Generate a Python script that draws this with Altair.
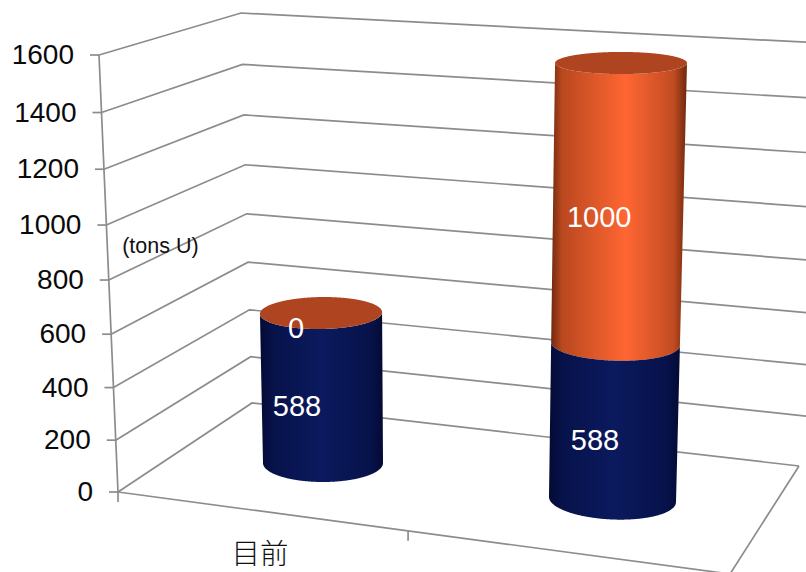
import altair as alt
import numpy as np
import pandas as pd

# Chart values
CATEGORIES = ["目前"]
LOWER_SERIES = [588, 588]
UPPER_SERIES = [0, 1000]
VALUE_TICKS = [0, 200, 400, 600, 800, 1000, 1200, 1400, 1600]
UNIT_LABEL = "(tons U)"

# Scene description: corners of the box in screen space, at value 0 and at the axis maximum
W, H = 806, 572
V_MAX = 1600
FRONT_LEFT = ((118, 492), (99, 55))
BACK_LEFT = ((252, 403), (241, 13))
BACK_RIGHT = ((799, 466), (860, 45))
FRONT_RIGHT = (730, 574)
CATEGORY_TICK_FRACTIONS = [0.0, 0.474]
FORESHORTEN = 0.942

# Cylinder footprints: base centre, lean at full height, radii and rim tilt
CYLINDERS = [
    dict(cx=323, cy=463, rise=424.0, lean=-5.6, rx=(60, 63), ry=(19, 10.5), tilt=(0.0, -0.04), label_dx=-25),
    dict(cx=612.5, cy=499.5, rise=440.0, lean=8.6, rx=(63.5, 66), ry=(20, 11), tilt=(0.04, 0.0), label_dx=-19),
]

NAVY = alt.Gradient(
    gradient="linear", x1=0, x2=1, y1=0, y2=0,
    stops=[
        alt.GradientStop(offset=0.0, color="#030a33"),
        alt.GradientStop(offset=0.1, color="#07124a"),
        alt.GradientStop(offset=0.5, color="#0b1a5e"),
        alt.GradientStop(offset=0.9, color="#07124a"),
        alt.GradientStop(offset=1.0, color="#030a33"),
    ],
)
ORANGE = alt.Gradient(
    gradient="linear", x1=0, x2=1, y1=0, y2=0,
    stops=[
        alt.GradientStop(offset=0.0, color="#70290f"),
        alt.GradientStop(offset=0.08, color="#b9481f"),
        alt.GradientStop(offset=0.55, color="#ff6633"),
        alt.GradientStop(offset=0.9, color="#c24c22"),
        alt.GradientStop(offset=1.0, color="#6e280e"),
    ],
)
CAP_COLOR = "#ae4420"
GRID_COLOR = "#8c8c8c"
FONT = "Liberation Sans"


def depth_fraction(value):
    """Share of the projected height reached by a value, with perspective foreshortening."""
    t = value / V_MAX
    return FORESHORTEN * t / (1 + (FORESHORTEN - 1) * t)


def edge_point(edge, value):
    s = depth_fraction(value)
    (x0, y0), (x1, y1) = edge
    return x0 + (x1 - x0) * s, y0 + (y1 - y0) * s


def lerp(pair, s):
    return pair[0] + (pair[1] - pair[0]) * s


def ring(cyl, value, start=0.0, stop=2 * np.pi, n=120):
    """Outline of the cylinder's rim at a given value."""
    s = depth_fraction(value)
    cx = cyl["cx"] + cyl["lean"] * s
    cy = cyl["cy"] - cyl["rise"] * s
    rx, ry, tilt = lerp(cyl["rx"], s), lerp(cyl["ry"], s), lerp(cyl["tilt"], s)
    theta = np.linspace(start, stop, n)
    return np.column_stack([
        cx + rx * np.cos(theta),
        cy + tilt * rx * np.cos(theta) + ry * np.sin(theta),
    ])


def slices(polygon):
    """Turn a closed outline into x / y / y2 rows for an area mark."""
    pts = np.vstack([polygon, polygon[0]])
    xs = np.unique(np.concatenate([pts[:, 0], np.linspace(pts[:, 0].min(), pts[:, 0].max(), 200)]))
    rows = []
    for x in xs:
        hits = []
        for (xa, ya), (xb, yb) in zip(pts[:-1], pts[1:]):
            if min(xa, xb) <= x <= max(xa, xb):
                if xa == xb:
                    hits += [ya, yb]
                else:
                    hits.append(ya + (yb - ya) * (x - xa) / (xb - xa))
        if hits:
            rows.append(dict(x=float(x), y=min(hits), y2=max(hits)))
    return pd.DataFrame(rows)


X = alt.X("x:Q", scale=alt.Scale(domain=[0, W], nice=False, zero=False), axis=None)
Y = alt.Y("y:Q", scale=alt.Scale(domain=[H, 0], nice=False, zero=False), axis=None)


def band(value_low, value_high, cyl, fill):
    lower = ring(cyl, value_low, 0, np.pi)
    upper = ring(cyl, value_high, np.pi, 0)
    frame = slices(np.vstack([lower, upper]))
    return alt.Chart(frame).mark_area(color=fill, clip=True).encode(x=X, y=Y, y2="y2:Q")


def cap(value, cyl):
    frame = slices(ring(cyl, value)[:-1])
    return alt.Chart(frame).mark_area(color=CAP_COLOR, clip=True).encode(x=X, y=Y, y2="y2:Q")


# Wall gridlines, axis edge, floor outline and tick marks
segments = []


def add_path(points):
    group = len({row["group"] for row in segments})
    for i, (x, y) in enumerate(points):
        segments.append(dict(group=group, i=i, x=x, y=y))


for tick in VALUE_TICKS:
    front = edge_point(FRONT_LEFT, tick)
    add_path([front, edge_point(BACK_LEFT, tick), edge_point(BACK_RIGHT, tick)])
    add_path([(front[0] - 9, front[1]), front])
add_path([edge_point(FRONT_LEFT, 0), edge_point(FRONT_LEFT, V_MAX)])
add_path([edge_point(FRONT_LEFT, 0), FRONT_RIGHT, edge_point(BACK_RIGHT, 0)])
for frac in CATEGORY_TICK_FRACTIONS:
    x0, y0 = edge_point(FRONT_LEFT, 0)
    px, py = x0 + (FRONT_RIGHT[0] - x0) * frac, y0 + (FRONT_RIGHT[1] - y0) * frac
    add_path([(px, py), (px, py + 10)])

frame_lines = (
    alt.Chart(pd.DataFrame(segments))
    .mark_line(color=GRID_COLOR, strokeWidth=1.7, clip=True)
    .encode(x=X, y=Y, detail="group:N", order="i:Q")
)

# Value axis labels sit a fixed distance to the left of the axis edge
tick_frame = pd.DataFrame([
    dict(x=edge_point(FRONT_LEFT, t)[0] - 25, y=edge_point(FRONT_LEFT, t)[1] + 1, label=str(t))
    for t in VALUE_TICKS
])
tick_labels = (
    alt.Chart(tick_frame)
    .mark_text(align="right", baseline="middle", font=FONT, fontSize=28, color="#0a0a0a")
    .encode(x=X, y=Y, text="label:N")
)

unit_label = (
    alt.Chart(pd.DataFrame([dict(x=edge_point(FRONT_LEFT, 1000)[0] + 54,
                                 y=edge_point(FRONT_LEFT, 1000)[1] + 22, label=UNIT_LABEL)]))
    .mark_text(align="center", baseline="middle", font=FONT, fontSize=21.5, color="#111111")
    .encode(x=X, y=Y, text="label:N")
)

category_label = (
    alt.Chart(pd.DataFrame([dict(x=260, y=555, label=CATEGORIES[0])]))
    .mark_text(align="center", baseline="middle", font="Noto Sans CJK SC", fontWeight=300,
               fontSize=28.5, color="#111111")
    .encode(x=X, y=Y, text="label:N")
)

# Stacked cylinders with their value labels
solids = []
value_rows = []
for cyl, low, high in zip(CYLINDERS, LOWER_SERIES, UPPER_SERIES):
    top = low + high
    if high > 0:
        solids.append(band(low, top, cyl, ORANGE))
    solids.append(band(0, low, cyl, NAVY))
    solids.append(cap(top, cyl))
    for base, amount in ((0, low), (low, high)):
        mid = base + amount / 2
        s = depth_fraction(mid)
        value_rows.append(dict(
            x=cyl["cx"] + cyl["lean"] * s + cyl["label_dx"],
            y=cyl["cy"] - cyl["rise"] * s + 20.5 - 13.5 * s,
            label=str(amount),
        ))

value_labels = (
    alt.Chart(pd.DataFrame(value_rows))
    .mark_text(align="center", baseline="middle", font=FONT, fontSize=29, color="#ffffff")
    .encode(x=X, y=Y, text="label:N")
)

chart = (
    alt.layer(frame_lines, tick_labels, unit_label, category_label, *solids, value_labels)
    .properties(width=W, height=H, padding=0, autosize=alt.AutoSizeParams(type="none"), background="#ffffff")
    .configure_view(stroke=None)
)

chart.save("out.html", embed_options={"renderer": "svg", "actions": False})
